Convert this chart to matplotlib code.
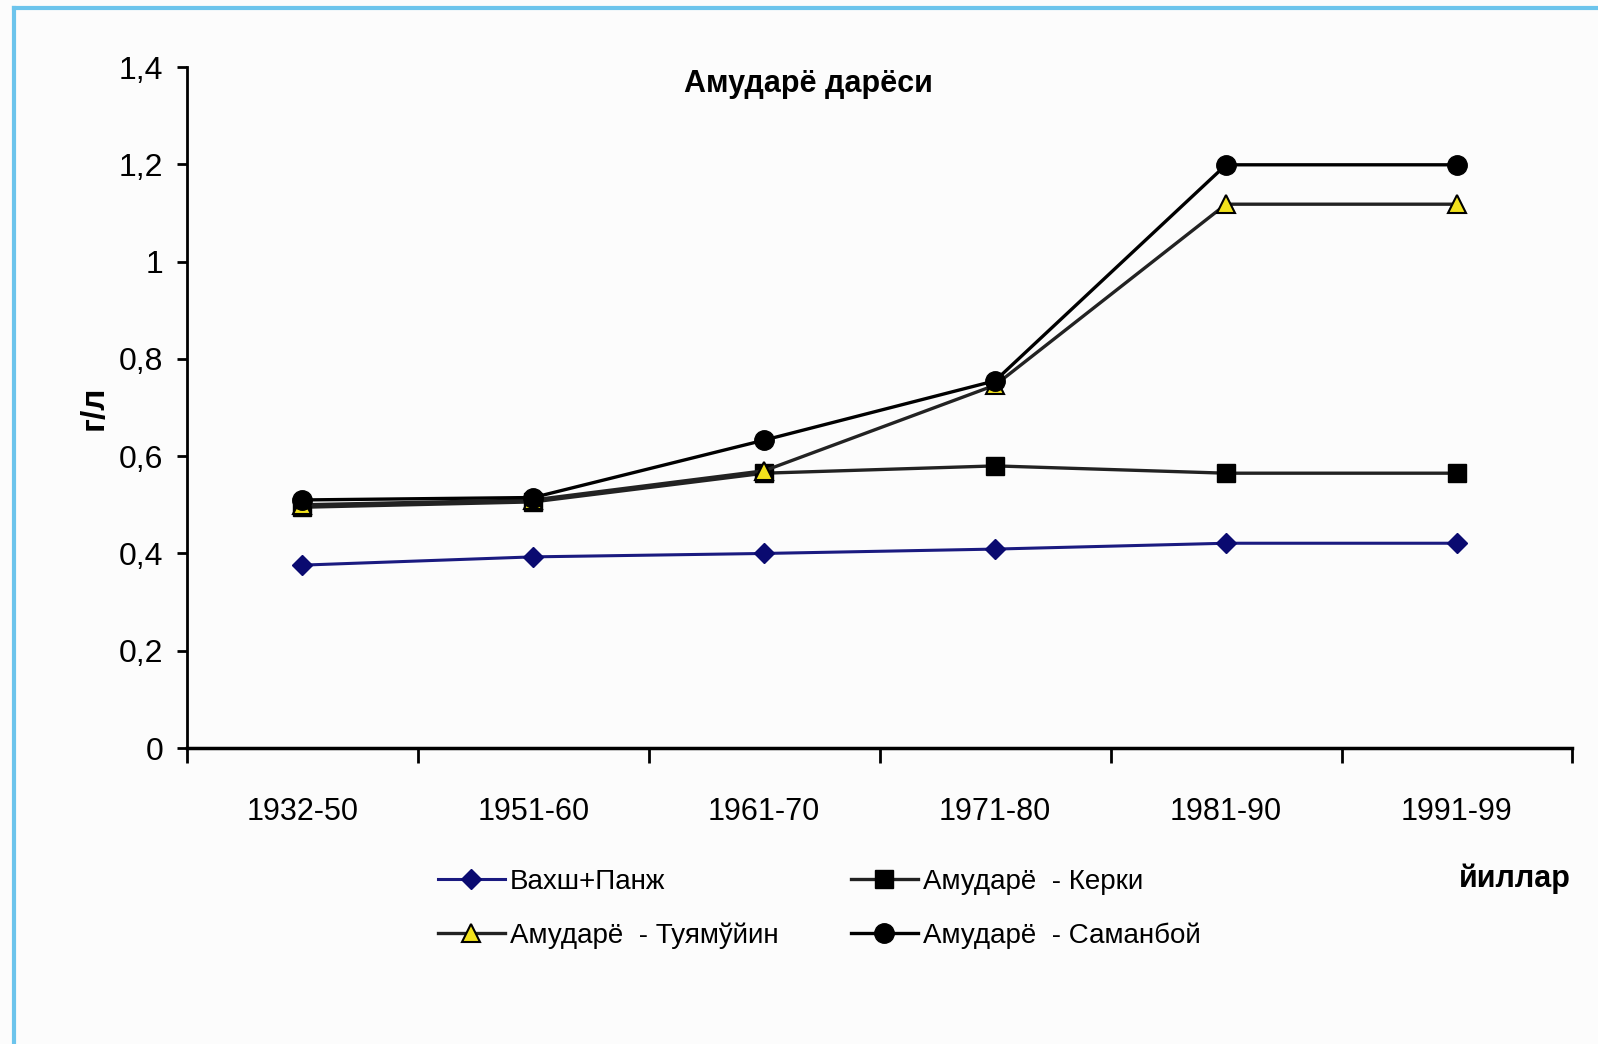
import matplotlib.pyplot as plt
from matplotlib.lines import Line2D
import numpy as np

plt.rcParams['font.family'] = ['Liberation Sans', 'DejaVu Sans']

periods = ['1932-50', '1951-60', '1961-70', '1971-80', '1981-90', '1991-99']
vakhsh_panj = [0.376, 0.393, 0.40, 0.409, 0.421, 0.421]
kerki = [0.495, 0.506, 0.565, 0.58, 0.565, 0.565]
tuyamuyun = [0.50, 0.51, 0.57, 0.746, 1.118, 1.118]
samanboy = [0.51, 0.515, 0.633, 0.755, 1.199, 1.199]
yticks = [0, 0.2, 0.4, 0.6, 0.8, 1.0, 1.2, 1.4]
ylabels = ['0', '0,2', '0,4', '0,6', '0,8', '1', '1,2', '1,4']

fig = plt.figure(figsize=(15.98, 10.44), dpi=100, facecolor='#fcfcfc')
ax = fig.add_axes([0.117, 0.2835, 0.867, 0.6523])
ax.set_facecolor('#fcfcfc')

x = np.arange(len(periods))
l1, = ax.plot(x, vakhsh_panj, color='#1a1a80', lw=2.2, marker='D', ms=10,
              mfc='#0a0a70', mec='#0a0a70', label='Вахш+Панж')
l2, = ax.plot(x, kerki, color='#222222', lw=2.4, marker='s', ms=13,
              mfc='black', mec='black', label='Амударё  - Керки')
l3, = ax.plot(x, tuyamuyun, color='#222222', lw=2.4, marker='^', ms=13,
              mfc='#f2e21c', mec='black', mew=1.5, label='Амударё  - Туямўйин')
l4, = ax.plot(x, samanboy, color='black', lw=2.4, marker='o', ms=14,
              mfc='black', mec='black', label='Амударё  - Саманбой')

ax.set_xlim(-0.5, 5.5)
ax.set_ylim(0, 1.4)
ax.spines['top'].set_visible(False)
ax.spines['right'].set_visible(False)
ax.spines['left'].set_linewidth(2)
ax.spines['bottom'].set_linewidth(2.5)

ax.set_yticks(yticks)
ax.set_yticklabels(ylabels)
ax.tick_params(axis='y', direction='out', length=7, width=2, pad=10, labelsize=23)

ax.set_xticks(x)
ax.set_xticklabels(periods)
ax.set_xticks(np.arange(-0.5, 6, 1), minor=True)
ax.tick_params(axis='x', which='major', length=0, pad=35, labelsize=22)
ax.tick_params(axis='x', which='minor', direction='out', length=11, width=2)

fig.text(0.5056, 0.9195, 'Амударё дарёси', fontsize=22, fontweight='bold',
         ha='center', va='center')
ax.set_ylabel('г/л', fontsize=24, fontweight='bold')
ax.yaxis.set_label_coords(-0.056, 0.5)

ax.legend(handles=[l1, l3, l2, l4], ncol=2, frameon=False, fontsize=20,
          loc='upper left', bbox_to_anchor=(0.274, 0.168), bbox_transform=fig.transFigure,
          handlelength=2.4, handletextpad=0.2, columnspacing=2.6,
          borderaxespad=0, borderpad=0, labelspacing=1.0)

fig.text(0.983, 0.158, 'йиллар', fontsize=22, fontweight='bold', ha='right', va='center')

# light blue frame around the picture
fig.add_artist(Line2D([0.0085, 0.0085], [0.0, 0.992], transform=fig.transFigure,
                      color='#6cc4ec', lw=3))
fig.add_artist(Line2D([0.0085, 1.0], [0.992, 0.992], transform=fig.transFigure,
                      color='#6cc4ec', lw=3))

fig.savefig('out.png', dpi=100, facecolor=fig.get_facecolor())
